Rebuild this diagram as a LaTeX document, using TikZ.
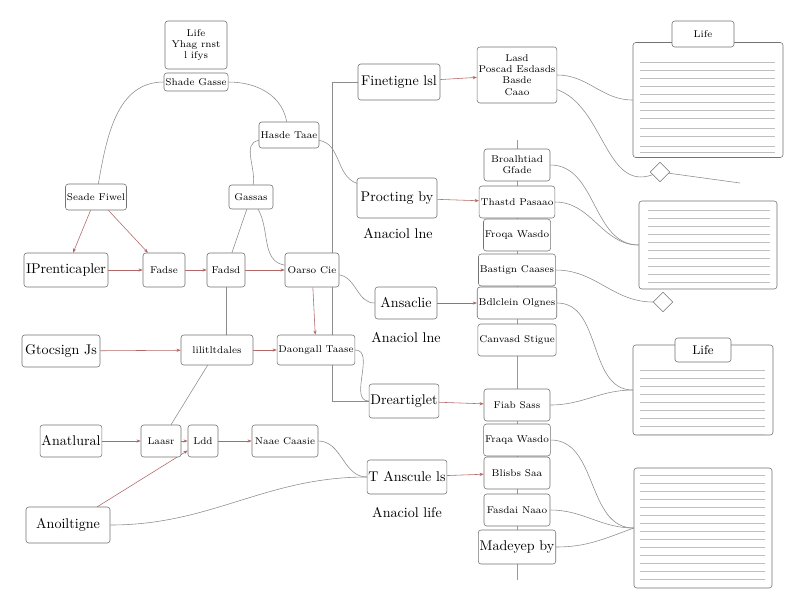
\documentclass[tikz,border=0pt]{standalone}
\usetikzlibrary{shapes.geometric,arrows.meta,backgrounds}
\begin{document}
\begin{tikzpicture}[x=0.025cm,y=-0.025cm,
 bx/.style={draw=black!55,rounded corners=2pt,fill=white,align=center,font=\scriptsize,inner sep=1pt},
 big/.style={bx,font=\normalsize},
 ln/.style={draw=black!45,thin},
 rl/.style={draw=red!50!black!60,thin,-{Stealth[length=3pt]}},
 txt/.style={draw=black!25,line width=0.5pt}]
\useasboundingbox (0,0) rectangle (800,600);
% left cluster
\node[bx,minimum width=62*0.025cm,minimum height=48*0.025cm] (life) at (196,45) {Life\\Yhag rnst\\l ifys};
\node[bx,minimum width=55*0.025cm,minimum height=18*0.025cm] (sg) at (196,82) {Shade Gasse};
\node[bx,minimum width=60*0.025cm,minimum height=26*0.025cm] (ht) at (289,135) {Hasde Taae};
\node[bx,minimum width=52*0.025cm,minimum height=26*0.025cm] (sf) at (96,197) {Seade Fiwel};
\node[bx,minimum width=44*0.025cm,minimum height=24*0.025cm] (ga) at (251,197) {Gassas};
\node[big,minimum width=84*0.025cm,minimum height=34*0.025cm] (ip) at (66,270) {IPrenticapler};
\node[bx,minimum width=42*0.025cm,minimum height=34*0.025cm] (fa) at (164,270) {Fadse};
\node[bx,minimum width=38*0.025cm,minimum height=34*0.025cm] (fd) at (226,270) {Fadsd};
\node[bx,minimum width=54*0.025cm,minimum height=34*0.025cm] (oc) at (312,270) {Oarso Cie};
\node[big,minimum width=78*0.025cm,minimum height=32*0.025cm] (gj) at (61,351) {Gtocsign Js};
\node[bx,minimum width=72*0.025cm,minimum height=30*0.025cm] (li) at (217,350) {lilitltdales};
\node[bx,minimum width=62*0.025cm,minimum height=30*0.025cm] (dt) at (316,350) {Daongall Taase};
\node[big,minimum width=56*0.025cm,minimum height=32*0.025cm] (an) at (71,441) {Anatlural};
\node[bx,minimum width=40*0.025cm,minimum height=32*0.025cm] (la) at (161,441) {Laasr};
\node[bx,minimum width=30*0.025cm,minimum height=32*0.025cm] (ld) at (203,441) {Ldd};
\node[bx,minimum width=66*0.025cm,minimum height=32*0.025cm] (nc) at (285,441) {Naae Caasie};
\node[big,minimum width=84*0.025cm,minimum height=36*0.025cm] (ao) at (68,525) {Anoiltigne};
% middle
\node[big,minimum width=82*0.025cm,minimum height=36*0.025cm] (fl) at (399,82) {Finetigne lsl};
\node[big,minimum width=80*0.025cm,minimum height=40*0.025cm] (pb) at (397,198) {Procting by};
\node[font=\normalsize] (t1) at (398,234) {Anaciol lne};
\node[big,minimum width=62*0.025cm,minimum height=32*0.025cm] (as) at (406,303) {Ansaclie};
\node[font=\normalsize] (t2) at (406,338) {Anaciol lne};
\node[big,minimum width=68*0.025cm,minimum height=34*0.025cm] (dg) at (404,401) {Dreartiglet};
\node[big,minimum width=66*0.025cm,minimum height=34*0.025cm] (ta) at (407,477) {T Anscule ls};
\node[font=\normalsize] (t3) at (407,513) {Anaciol life};
% column
\foreach \n/\y/\t in {c1/165/Broalhtiad\\Gfade,c2/202/Thastd Pasaao,c3/235/Froqa Wasdo,c4/270/Bastign Caases,c5/303/Bdlclein Olgnes,c6/340/Canvasd Stigue,c7/405/Fiab Sass,c8/440/Fraqa Wasdo,c9/473/Blisbs Saa,c10/510/Fasdai Naao}
 \node[bx,minimum width=66*0.025cm,minimum height=32*0.025cm] (\n) at (517,\y) {\t};
\node[bx,minimum width=66*0.025cm,minimum height=56*0.025cm] (c0) at (517,75) {Lasd\\Poscad Esdasds\\Basde\\Caao};
\node[bx,font=\normalsize,minimum width=66*0.025cm,minimum height=34*0.025cm] (c11) at (517,547) {Madeyep by};
% right panels
\node[bx,minimum width=150*0.025cm,minimum height=115*0.025cm] (p1) at (708,100) {};
\node[bx,minimum width=62*0.025cm,minimum height=26*0.025cm] (rlife) at (703,34) {Life};
\node[draw=black!55,fill=white,diamond,minimum size=14pt,inner sep=0] (d1) at (660,172) {};
\coordinate (e1) at (740,183);
\node[bx,minimum width=138*0.025cm,minimum height=88*0.025cm] (p2) at (708,245) {};
\node[draw=black!55,fill=white,diamond,minimum size=14pt,inner sep=0] (d2) at (663,302) {};
\node[bx,minimum width=140*0.025cm,minimum height=90*0.025cm] (p3) at (703,390) {};
\node[bx,font=\small,minimum width=56*0.025cm,minimum height=24*0.025cm] (rlife2) at (703,350) {Life};
\node[bx,minimum width=138*0.025cm,minimum height=120*0.025cm] (p4) at (703,528) {};
\foreach \y in {62,70,78,86,94,102,110,118,128,136,146,152} \draw[txt] (640,\y) -- (775,\y);
\foreach \y in {210,218,226,234,242,250,258,266,274,282} \draw[txt] (648,\y) -- (770,\y);
\foreach \y in {370,378,386,394,402,410,418,426,434} \draw[txt] (640,\y) -- (765,\y);
\foreach \y in {475,483,491,499,507,515,523,531,539,547,555,563,571,579} \draw[txt] (640,\y) -- (765,\y);
\begin{scope}[on background layer]
\fill[white] (0,0) rectangle (800,600);
\draw[black!40] (517,140) -- (517,580);
\draw[ln] (d1) -- (e1);
\draw[ln] (sg) to[out=180,in=80] (sf);
\draw[ln] (sg) to[out=0,in=100] (ht);
\draw[ln] (ht) to[out=190,in=80] (ga);
\draw[ln] (ht) to[out=-10,in=160] (pb);
\draw[rl] (sf) -- (ip);
\draw[rl] (sf) -- (fa);
\draw[ln] (ga) -- (fd);
\draw[ln] (ga) to[out=-60,in=170] (oc);
\draw[rl] (ip) -- (fa);
\draw[rl] (fa) -- (fd);
\draw[rl] (fd) -- (oc);
\draw[rl] (gj) -- (li);
\draw[rl] (li) -- (dt);
\draw[rl] (oc) -- (dt);
\draw[ln] (fd.south) -- (fd.south |- li.north);
\draw[rl] (an) -- (la);
\draw[rl] (la) -- (ld);
\draw[rl] (ld) -- (nc);
\draw[ln] (li) -- (la);
\draw[rl] (ao) -- (ld);
\draw[ln] (oc) to[out=-10,in=180] (as);
\draw[ln] (dt) to[out=0,in=180] (dg);
\draw[ln] (nc) to[out=0,in=180] (ta);
\draw[ln] (ao) to[out=0,in=180] (ta);
\draw[ln] (fl.west) -- ++(-25,0) |- (dg.west);
\draw[rl] (fl) -- (c0);
\draw[rl] (pb) -- (c2);
\draw[rl] (as) -- (c5);
\draw[rl] (dg) -- (c7);
\draw[rl] (ta) -- (c9);
\draw[ln] (c0) to[out=0,in=180] (p1.west);
\draw[ln] (c0) to[out=-20,in=200] (d1);
\draw[ln] (c1) to[out=0,in=180] (p2.west);
\draw[ln] (c2) to[out=0,in=180] (p2.west);
\draw[ln] (c4) to[out=0,in=180] (d2);
\draw[ln] (c5) to[out=0,in=180] (p3.west);
\draw[ln] (c7) to[out=0,in=180] (p3.west);
\draw[ln] (c8) to[out=0,in=180] (p4.west);
\draw[ln] (c10) to[out=0,in=180] (p4.west);
\draw[ln] (c11) to[out=0,in=200] (p4.west);
\end{scope}
\end{tikzpicture}
\end{document}
